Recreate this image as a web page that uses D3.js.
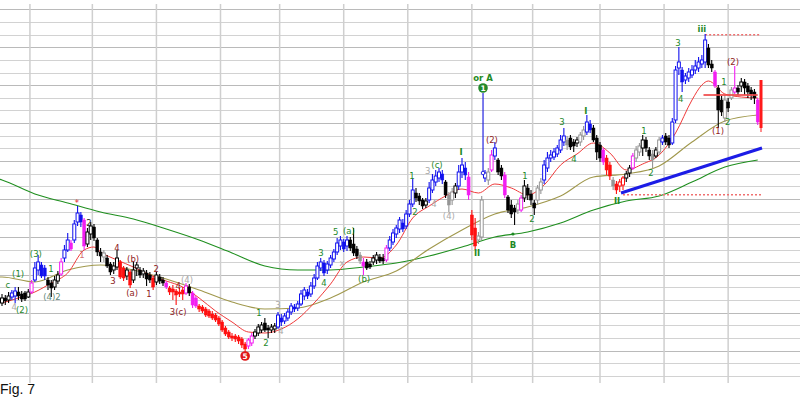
<!DOCTYPE html>
<html><head><meta charset="utf-8">
<script src="https://cdn.jsdelivr.net/npm/d3@7"></script>
<style>html,body{margin:0;padding:0;background:#fff;} svg{display:block;}</style>
</head><body>
<svg id="chart" width="800" height="406"></svg>
<script>
// ---- price bars (daily), arbitrary price units ----
const open = [97,102,100,103,104,108,106,107,103,108,
120,130,135,132,120,117,113,119,126,142,
150,157,160,178,185,180,156,166,173,160,
148,143,142,136,130,133,138,132,124,128,
120,132,130,126,127,125,122,118,123,120,
117,112,111,109,108,110,107,113,107,102,
94,93,91,89,86,85,82,78,72,68,
64,64,63,61,56,54,57,64,67,70,
77,72,70,71,73,82,79,82,88,93,
92,96,104,108,106,114,122,132,137,130,
135,141,148,154,158,154,160,156,151,145,
138,138,136,138,140,143,142,140,152,158,
166,171,177,174,186,196,207,204,200,195,
200,210,218,222,226,218,205,200,207,214,
228,232,223,185,172,160,163,222,220,230,
244,240,232,225,203,195,192,190,190,202,
212,206,197,200,210,220,232,242,243,246,
250,258,260,262,258,257,258,264,268,276,
272,262,255,250,242,235,220,216,214,215,
222,227,232,242,248,252,260,250,246,244,
248,258,264,262,257,280,332,330,320,322,
325,330,332,336,338,352,336,328,312,300,
282,298,302,308,312,314,318,314,310,308,
300];
const high = [106,105,108,110,113,113,109,109,111,120,
138,145,138,135,123,120,124,129,142,155,
167,160,180,194,188,182,172,178,176,162,
152,150,145,138,138,150,140,134,133,130,
138,138,133,132,130,128,124,128,126,123,
119,114,115,111,112,113,117,116,109,104,
96,95,93,91,89,87,84,80,74,70,
67,66,65,63,58,62,67,71,76,78,
82,75,76,77,88,86,87,91,97,96,
99,110,113,111,118,126,138,142,140,139,
145,151,162,164,161,164,163,172,154,148,
142,141,139,145,148,146,146,155,164,171,
175,183,181,190,200,222,212,207,202,202,
218,226,230,232,230,220,208,212,217,235,
242,238,228,190,182,168,204,230,232,250,
258,242,235,228,205,200,195,200,205,220,
216,210,200,215,222,240,248,250,252,255,
265,272,264,265,261,263,268,274,285,280,
275,265,258,252,245,238,223,219,221,224,
229,235,247,254,257,265,263,253,250,253,
263,265,267,265,282,334,353,333,327,332,
335,340,343,345,366,356,340,330,315,304,
305,302,313,334,315,322,321,317,313,311,
302];
const low = [94,95,97,100,97,100,98,99,102,106,
118,125,122,120,110,103,110,116,124,138,
148,149,157,174,173,150,153,160,159,144,
138,138,132,125,126,130,121,119,120,112,
117,124,122,122,114,117,110,115,116,114,
111,105,100,95,103,100,105,104,92,92,
88,87,83,82,80,78,74,68,64,61,
59,58,56,52,48,51,54,61,64,67,
68,62,67,67,71,74,76,79,85,88,
89,94,100,101,103,111,120,129,124,126,
132,138,145,150,148,149,149,144,141,136,
125,130,131,135,136,137,136,138,149,155,
162,167,168,171,183,193,198,195,191,192,
197,207,214,218,216,202,188,195,202,210,
222,220,200,160,150,156,160,218,215,228,
240,225,220,202,187,182,175,186,188,198,
200,195,185,195,206,216,228,238,240,243,
247,254,250,250,248,253,254,260,265,267,
258,240,238,235,225,220,210,206,208,210,
218,223,230,238,244,244,248,240,232,242,
245,255,255,252,255,277,325,308,316,318,
322,326,328,332,332,332,328,312,272,284,
278,288,300,306,305,308,305,302,300,296,
275];
const close = [102,99,104,107,109,104,101,101,108,117,
132,138,124,124,115,112,120,125,138,150,
160,151,176,187,178,154,168,174,162,148,
144,147,134,128,134,142,123,122,130,115,
130,135,125,129,121,120,113,125,119,117,
113,108,108,105,106,106,114,107,95,94,
91,89,85,84,82,80,76,70,66,63,
62,61,59,55,51,60,64,68,73,75,
70,70,73,74,85,78,84,88,94,91,
96,106,110,104,114,122,134,138,127,136,
142,148,157,160,151,160,152,147,144,139,
134,132,133,142,145,139,139,152,160,167,
172,180,171,186,196,210,202,199,194,199,
212,220,224,228,220,205,195,208,214,228,
235,225,205,165,154,164,200,227,228,245,
252,228,224,205,190,186,188,196,202,214,
205,200,192,212,218,235,242,245,248,252,
260,264,255,253,254,260,265,270,278,270,
260,248,242,238,230,224,214,210,218,222,
226,232,244,250,254,260,252,244,240,250,
260,262,258,255,278,330,338,318,324,328,
330,334,338,340,360,335,332,314,290,288,
300,292,310,312,308,318,312,308,306,302,
278];
// bar colour class per bar: b=blue k=black r=red m=magenta g=grey
const barKind = ("kkkbbkkkk" + "m" + "bbbb" + "kkkk" + "m" + "bb" + "m" + "bbb" + "m" +
  "kkkkk" + "g" + "kkkk" + "rr" + "k" + "r" + "kkkkkk" + "r" + "kkk" + "m" + "rrrrr" +
  "m" + "k" + "mm" + "rrrrrrrrrrrrrrr" + "mm" + "kkkkkkk" + "bbbbbbbbbbbbbbbbbbbbbb" +
  "kkk" + "g" + "m" + "kkkkkk" + "m" + "bbbbbbbb" + "kkkk" + "bbbbb" + "k" + "gg" + "k" +
  "bbb" + "m" + "rr" + "gg" + "b" + "g" + "m" + "b" + "kk" + "m" + "kkk" + "g" + "m" +
  "kkkk" + "gg" + "bbbbbbb" + "g" + "kkk" + "gg" + "bb" + "kkk" + "m" + "rr" + "g" + "rrr" +
  "kk" + "m" + "gg" + "kkk" + "g" + "k" + "g" + "b" + "kk" + "bbbbbbbbbbb" + "kk" + "m" +
  "kk" + "g" + "k" + "g" + "m" + "kkkkkk" + "m").split("");

// moving averages (at bar indices)
const maSlowIdx = [-1,0,10,20,30,40,50,60,70,80,90,100,110,120,130,140,150,160,170,180,190,200,210,220,230];
const maSlow    = [221,220,206,197,188,181,171,160,147,134,130,130,133,137,144,153,163,168,177,190,199,204,218,233,240];
const maMidIdx  = [-1,0,10,20,30,40,50,60,70,80,90,100,110,120,130,140,150,160,170,180,190,200,210,220,230];
const maMid     = [123,123,118,130,135,130,121,110,98,91,92,102,118,129,151,170,186,193,204,223,226,234,258,279,285];
const maFastIdx = [0,5,10,15,20,25,28,30,35,40,45,50,55,60,65,70,75,80,85,90,95,100,105,110,115,120,125,130,135,140,145,150,155,160,165,170,175,180,185,190,195,200,205,210,213,215,220,225,230];
const maFast    = [97,102,108,117,127,150,153,148,140,133,125,119,113,102,89,78,68,67,71,81,97,116,138,143,142,155,182,194,204,211,207,216,212,205,215,235,246,257,247,230,236,245,267,300,315,319,306,303,302];

// month separators (bar index positions)
const monthBreaks = [8.5,27.5,47,66.5,84.5,104,123.5,143,161.5,182,201.5,221];

// wave labels
const labelIdx  = [1.8,4.9,10.3,3.7,6.1,15.2,14.9,22.8,26.5,24.3,33.8,35,39.9,39.6,44.7,46.9,53.6,56.3,53.6,
  78.2,80.3,84,84.9,97.1,98,101.6,105.6,103.5,110.2,124.8,125.7,129.6,132.4,131.5,136,139.7,146.4,149.1,144.6,
  155.5,159.2,161.3,170.4,174.1,177.7,187.2,195.4,197.5,205.7,206.6,213,222.5,219.7,217.9,220.9];
const labelVal  = [115,126,146,93,90,103,131,197,177,145,119,152,141,107,106,131,114,120,88,
  87,57,95,69,147,117,168,169,137,121,224,188,229,235,196,184,248,322,260,147,
  155,224,181,278,241,289,199,269,227,357,301,371,338,318,269,278];
const labelText = ["c","(1)","(3)","4","(2)","(4)2","1","*","2","1","3","4","(b)","(a)","1","2","4","(4)","3(c)",
  "1","2","3","4","3","4","5","(a)","x","(b)","1","2","3","(c)","4","(4)","I","or A","(2)","II",
  "B","1","2","3","4","I","II","1","2","3","4","iii","(2)","1","(1)","2"];
const labelTone = ["G","G","G","S","G","T","G","R","K","P","D","D","D","D","D","D","D","S","D",
  "G","G","S","S","G","G","G","G","S","G","G","G","S","G","S","S","GB","GB","D","GB",
  "GB","G","G","G","G","GB","GB","G","G","G","G","GB","D","G","D","G"];

// circled wave marks
const circleIdx = [74, 146.4], circleVal = [44, 312], circleText = ["5","1"], circleTone = ["R","G"];

// annotation lines
const trendFrom = [188.4, 207], trendTo = [231.3, 252];   // blue trendline
const levelTop = 365.3, levelTopFrom = 214;             // dotted red level (top)
const levelLow = 205.3, levelLowFrom = 189;             // dotted red level (low)
const pivotVal = 305, pivotFrom = 213.5, pivotTo = 230; // red horizontal
const lastBarIdx = 231, lastBarHigh = 320, lastBarLow = 272, lastBarWick = 268;
const linkIdx = 146.4, linkTop = 307, linkBottom = 227;  // blue pointer from circle 1
const dotIdx = 155.5, dotVal = 166;

// grid rows
const gridTop = 390.7, gridStep = 12.645, gridRows = 30;

const svg = d3.select("#chart");
const W = 800, H = 406;
const x = d3.scaleLinear().domain([0, 231]).range([2, 761]);
const y = d3.scaleLinear().domain([24, 390.7]).range([376, 9.3]);

const kindColor = {b:"#1010ee", k:"#000000", r:"#ff1010", m:"#f21ef2", g:"#959595"};
const toneColor = {G:"#23892a", GB:"#1f8a25", S:"#a8a8a8", T:"#5f8a7a", R:"#e01818", K:"#222", P:"#d07070", D:"#8e2222"};

// grid
const gridVals = d3.range(gridRows).map(k => gridTop - k*gridStep);
svg.append("g").selectAll("line").data(gridVals).join("line")
  .attr("x1", 0).attr("x2", W)
  .attr("y1", d => Math.round(y(d)) + 0.5).attr("y2", d => Math.round(y(d)) + 0.5)
  .attr("stroke", (d,k) => k % 3 === 0 ? "#bababa" : "#d2d2d2").attr("stroke-width", 1);
svg.append("g").selectAll("line").data(monthBreaks).join("line")
  .attr("x1", d => x(d)).attr("x2", d => x(d))
  .attr("y1", y(396)).attr("y2", y(17))
  .attr("stroke", "#cfcfcf").attr("stroke-width", 1.5);

// moving averages
const lineGen = d3.line().x(d => x(d[0])).y(d => y(d[1])).curve(d3.curveMonotoneX);
svg.append("path").attr("d", lineGen(d3.zip(maSlowIdx, maSlow)))
  .attr("fill","none").attr("stroke","#1f8f1f").attr("stroke-width",1.1);
svg.append("path").attr("d", lineGen(d3.zip(maMidIdx, maMid)))
  .attr("fill","none").attr("stroke","#a0984c").attr("stroke-width",1.1);
svg.append("path").attr("d", lineGen(d3.zip(maFastIdx, maFast)))
  .attr("fill","none").attr("stroke","#f03a3a").attr("stroke-width",1);

// blue trendline
svg.append("line").attr("x1", x(trendFrom[0])).attr("y1", y(trendFrom[1]))
  .attr("x2", x(trendTo[0])).attr("y2", y(trendTo[1]))
  .attr("stroke","#1c1ce6").attr("stroke-width",3);

// dotted levels
[[levelTop, levelTopFrom],[levelLow, levelLowFrom]].forEach(([v, f]) => {
  svg.append("line").attr("x1", x(f)).attr("x2", x(lastBarIdx)).attr("y1", y(v)).attr("y2", y(v))
    .attr("stroke","#f07070").attr("stroke-width",1.5).attr("stroke-dasharray","2,2");
});

// candles
const bw = 3;
const bars = svg.append("g");
open.forEach((o, i) => {
  const c = close[i], hi = Math.max(high[i], o, c), lo = Math.min(low[i], o, c);
  const col = kindColor[barKind[i]] || "#000";
  const cx = x(i);
  bars.append("line").attr("x1", cx).attr("x2", cx).attr("y1", y(hi)).attr("y2", y(lo))
    .attr("stroke", col).attr("stroke-width", 1.1);
  const top = y(Math.max(o, c)), hgt = Math.max(1.4, Math.abs(y(o) - y(c)));
  const up = c > o;
  bars.append("rect").attr("x", cx - bw/2).attr("y", top).attr("width", bw).attr("height", hgt)
    .attr("fill", up ? "#fff" : col).attr("stroke", col).attr("stroke-width", up ? 1 : 0.5);
});

// red pivot line
svg.append("line").attr("x1", x(pivotFrom)).attr("x2", x(pivotTo)).attr("y1", y(pivotVal)).attr("y2", y(pivotVal))
  .attr("stroke","#f04848").attr("stroke-width",2).attr("opacity",0.85);

// last bar marker
svg.append("line").attr("x1", x(lastBarIdx)).attr("x2", x(lastBarIdx)).attr("y1", y(lastBarHigh)).attr("y2", y(lastBarWick))
  .attr("stroke","#ff1a1a").attr("stroke-width",1);
svg.append("rect").attr("x", x(lastBarIdx)-1.5).attr("y", y(lastBarHigh)).attr("width",3)
  .attr("height", y(lastBarLow)-y(lastBarHigh)).attr("fill","#ff1a1a");

// blue pointer line
svg.append("line").attr("x1", x(linkIdx)).attr("x2", x(linkIdx)).attr("y1", y(linkTop)).attr("y2", y(linkBottom))
  .attr("stroke","#2424e0").attr("stroke-width",1.2);
svg.append("circle").attr("cx", x(linkIdx)).attr("cy", y(linkBottom)).attr("r",1.8)
  .attr("fill","#fff").attr("stroke","#2424e0");
svg.append("circle").attr("cx", x(dotIdx)).attr("cy", y(dotVal)).attr("r",1.6).attr("fill","#1f8a25");

// labels
const lbl = svg.append("g").attr("font-family","DejaVu Sans, Verdana, sans-serif").attr("font-size","8.5px");
labelText.forEach((t, i) => {
  const tone = labelTone[i];
  lbl.append("text").attr("x", x(labelIdx[i])).attr("y", y(labelVal[i]))
    .attr("text-anchor","middle").attr("dominant-baseline","central")
    .attr("fill", toneColor[tone]).attr("font-weight", tone === "GB" ? "bold" : "normal")
    .text(t);
});
circleText.forEach((t, i) => {
  const col = toneColor[circleTone[i]];
  svg.append("circle").attr("cx", x(circleIdx[i])).attr("cy", y(circleVal[i])).attr("r", 4.8).attr("fill", col);
  svg.append("text").attr("x", x(circleIdx[i])).attr("y", y(circleVal[i]))
    .attr("text-anchor","middle").attr("dominant-baseline","central")
    .attr("font-family","DejaVu Sans, sans-serif").attr("font-size","7.5px").attr("font-weight","bold")
    .attr("fill","#fff").text(t);
});

// caption
svg.append("text").attr("x", 0).attr("y", 394).attr("font-family","Liberation Sans, Arial, sans-serif")
  .attr("font-size","14px").attr("fill","#111").text("Fig. 7");
</script>
</body></html>
